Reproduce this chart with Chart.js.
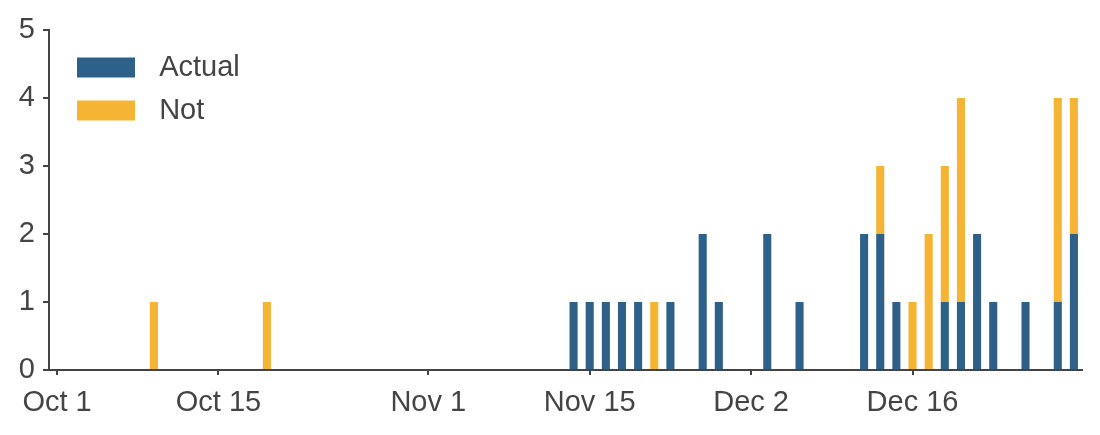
<!DOCTYPE html>
<html>
<head>
<meta charset="utf-8">
<script src="https://cdn.jsdelivr.net/npm/chart.js@4.4.0/dist/chart.umd.min.js"></script>
<style>
  html, body { margin: 0; padding: 0; background: #fff; }
  #wrap { width: 1100px; height: 435px; }
</style>
</head>
<body>
<div id="wrap"><canvas id="myChart"></canvas></div>
<script>
// trading days Oct 1 - Dec 31 (no weekends, no Thanksgiving, no Christmas)
var days = [
  'Oct 1', 'Oct 2', 'Oct 3', 'Oct 4', 'Oct 7', 'Oct 8', 'Oct 9', 'Oct 10', 'Oct 11',
  'Oct 14', 'Oct 15', 'Oct 16', 'Oct 17', 'Oct 18', 'Oct 21', 'Oct 22', 'Oct 23',
  'Oct 24', 'Oct 25', 'Oct 28', 'Oct 29', 'Oct 30', 'Oct 31',
  'Nov 1', 'Nov 4', 'Nov 5', 'Nov 6', 'Nov 7', 'Nov 8', 'Nov 11', 'Nov 12', 'Nov 13',
  'Nov 14', 'Nov 15', 'Nov 18', 'Nov 19', 'Nov 20', 'Nov 21', 'Nov 22', 'Nov 25',
  'Nov 26', 'Nov 27', 'Nov 29',
  'Dec 2', 'Dec 3', 'Dec 4', 'Dec 5', 'Dec 6', 'Dec 9', 'Dec 10', 'Dec 11', 'Dec 12',
  'Dec 13', 'Dec 16', 'Dec 17', 'Dec 18', 'Dec 19', 'Dec 20', 'Dec 23', 'Dec 24',
  'Dec 26', 'Dec 27', 'Dec 30', 'Dec 31'
];

// counts per day
var actual = [
  0, 0, 0, 0, 0, 0, 0, 0, 0, 0, 0, 0, 0, 0, 0, 0, 0, 0, 0, 0, 0, 0, 0,
  0, 0, 0, 0, 0, 0, 0, 0, 0, 1, 1, 1, 1, 1, 0, 1, 0, 2, 1, 0,
  0, 2, 0, 1, 0, 0, 0, 2, 2, 1, 0, 0, 1, 1, 2, 1, 0, 1, 0, 1, 2
];
var notActual = [
  0, 0, 0, 0, 0, 0, 1, 0, 0, 0, 0, 0, 0, 1, 0, 0, 0, 0, 0, 0, 0, 0, 0,
  0, 0, 0, 0, 0, 0, 0, 0, 0, 0, 0, 0, 0, 0, 1, 0, 0, 0, 0, 0,
  0, 0, 0, 0, 0, 0, 0, 0, 1, 0, 1, 2, 2, 3, 0, 0, 0, 0, 0, 3, 2
];

// days that get a label on the x axis
var tickDays = ['Oct 1', 'Oct 15', 'Nov 1', 'Nov 15', 'Dec 2', 'Dec 16'];
var yTicks = [0, 1, 2, 3, 4, 5];

var textColor = '#444';
var axisColor = '#444';
var fontFamily = "'Liberation Sans', Arial, sans-serif";

// move the legend into the top left corner of the plot
const legendPlace = {
  id: 'legendPlace',
  afterLayout(chart) {
    var lg = chart.legend;
    if (!lg) return;
    var w = lg.width, h = lg.height;
    lg.left = chart.chartArea.left + 14;
    lg.top = chart.chartArea.top + 9;
    lg.right = lg.left + w;
    lg.bottom = lg.top + h;
  }
};

const ctx = document.getElementById('myChart').getContext('2d');

const config = {
  type: 'bar',
  data: {
    labels: days,
    datasets: [{
      label: 'Actual',
      data: actual.map(function(v) { return v || null; }),
      backgroundColor: '#2e6189',
      barPercentage: 0.5,
      categoryPercentage: 1
    }, {
      label: 'Not',
      data: notActual.map(function(v) { return v || null; }),
      backgroundColor: '#f5b434',
      barPercentage: 0.5,
      categoryPercentage: 1
    }]
  },
  options: {
    responsive: true,
    maintainAspectRatio: false,
    animation: false,
    layout: { padding: { top: 30, right: 18, left: 0, bottom: 0 } },
    plugins: {
      tooltip: { enabled: false },
      legend: {
        position: 'chartArea',
        align: 'start',
        labels: {
          boxWidth: 58,
          boxHeight: 20,
          padding: 14,
          color: textColor,
          font: { family: fontFamily, size: 29 },
          generateLabels: function(chart) {
            var items = Chart.defaults.plugins.legend.labels.generateLabels(chart);
            items.forEach(function(it) { it.text = '\u2004' + it.text; });
            return items;
          }
        }
      }
    },
    scales: {
      x: {
        stacked: true,
        offset: true,
        grid: {
          display: true,
          drawOnChartArea: false,
          offset: false,
          tickLength: 5,
          lineWidth: 2,
          tickColor: function(c) {
            return tickDays.indexOf(days[c.index]) >= 0 ? axisColor : 'rgba(0,0,0,0)';
          }
        },
        border: { display: true, color: axisColor, width: 2 },
        ticks: {
          autoSkip: false,
          maxRotation: 0,
          minRotation: 0,
          padding: 11,
          color: textColor,
          font: { family: fontFamily, size: 29 },
          callback: function(value) {
            var lbl = this.getLabelForValue(value);
            return tickDays.indexOf(lbl) >= 0 ? lbl : '';
          }
        },
        afterFit: function(scale) { scale.height = 65; }
      },
      y: {
        stacked: true,
        min: yTicks[0],
        max: yTicks[yTicks.length - 1],
        grid: {
          display: true,
          drawOnChartArea: false,
          tickLength: 6,
          lineWidth: 2,
          tickColor: axisColor
        },
        border: { display: true, color: axisColor, width: 2 },
        ticks: {
          stepSize: 1,
          padding: 8,
          color: textColor,
          font: { family: fontFamily, size: 29 }
        },
        afterFit: function(scale) { scale.width = 49; }
      }
    }
  },
  plugins: [legendPlace]
};

const chart = new Chart(ctx, config);
</script>
</body>
</html>
